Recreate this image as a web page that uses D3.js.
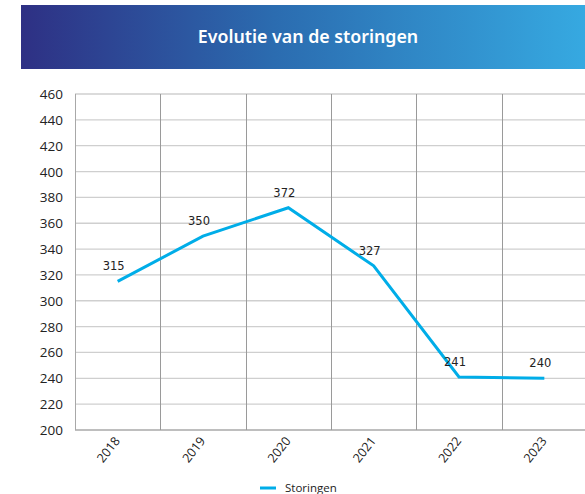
<!DOCTYPE html>
<html>
<head>
<meta charset="utf-8">
<script src="https://cdn.jsdelivr.net/npm/d3@7"></script>
<style>
  body { margin: 0; background: #fff; }
  svg { display: block; }
</style>
</head>
<body>
<div id="chart"></div>
<script>
// data
const years = ['2018', '2019', '2020', '2021', '2022', '2023'];
const storingen = [315, 350, 372, 327, 241, 240];
const yTicks = [200, 220, 240, 260, 280, 300, 320, 340, 360, 380, 400, 420, 440, 460];
const title = 'Evolutie van de storingen';
const seriesName = 'Storingen';

const width = 585, height = 494;
const margin = { top: 94, right: -2, bottom: 64, left: 75 };

const svg = d3.select('#chart').append('svg')
    .attr('width', width)
    .attr('height', height);

// header bar with gradient
const grad = svg.append('defs').append('linearGradient')
    .attr('id', 'hdr').attr('x1', '0%').attr('x2', '100%');
grad.append('stop').attr('offset', '0%').attr('stop-color', '#2e3084');
grad.append('stop').attr('offset', '45%').attr('stop-color', '#2b6cb0');
grad.append('stop').attr('offset', '100%').attr('stop-color', '#36a9e1');

svg.append('rect')
    .attr('x', 21).attr('y', 5)
    .attr('width', width - 21).attr('height', 64)
    .attr('fill', 'url(#hdr)');

svg.append('text')
    .attr('x', 308).attr('y', 43)
    .attr('text-anchor', 'middle')
    .attr('fill', '#fff')
    .attr('font-family', 'Noto Sans, Open Sans, sans-serif')
    .attr('font-weight', 600)
    .attr('font-size', 17.8)
    .text(title);

const x = d3.scaleBand()
    .domain(years)
    .range([margin.left, width - margin.right]);

const y = d3.scaleLinear()
    .domain([200, 460])
    .range([height - margin.bottom, margin.top]);

// horizontal grid
svg.append('g')
    .selectAll('line')
    .data(yTicks)
    .join('line')
    .attr('x1', margin.left).attr('x2', width)
    .attr('y1', d => y(d)).attr('y2', d => y(d))
    .attr('stroke', d => d === 200 ? '#a8a8a8' : '#cfcfcf')
    .attr('stroke-width', 1.3);

// vertical grid at band edges
const edges = years.map(d => x(d)).concat([x(years[years.length - 1]) + x.bandwidth()]);
svg.append('g')
    .selectAll('line')
    .data(edges)
    .join('line')
    .attr('x1', d => Math.round(d) + 0.5).attr('x2', d => Math.round(d) + 0.5)
    .attr('y1', y(460)).attr('y2', y(200))
    .attr('stroke', (d, i) => i === 0 ? '#a8a8a8' : '#9a9a9a')
    .attr('stroke-width', 1);

// y axis labels
svg.append('g')
    .selectAll('text')
    .data(yTicks)
    .join('text')
    .attr('x', 63)
    .attr('y', d => y(d) + 5)
    .attr('text-anchor', 'end')
    .attr('fill', '#222')
    .attr('font-family', 'Open Sans, sans-serif')
    .attr('font-size', 13.5)
    .text(d => d);

// x axis labels
svg.append('g')
    .selectAll('text')
    .data(years)
    .join('text')
    .attr('transform', d => `translate(${x(d) + x.bandwidth() / 2 + 3},${y(200) + 11}) rotate(-52)`)
    .attr('text-anchor', 'end')
    .attr('fill', '#222')
    .attr('font-family', 'Open Sans, sans-serif')
    .attr('font-size', 12.5)
    .text(d => d);

// line
const pts = years.map((d, i) => ({ year: d, value: storingen[i] }));
const line = d3.line()
    .x(d => x(d.year) + x.bandwidth() / 2)
    .y(d => y(d.value));

svg.append('path')
    .datum(pts)
    .attr('fill', 'none')
    .attr('stroke', '#00ade8')
    .attr('stroke-width', 3)
    .attr('d', line);

// value labels
svg.append('g')
    .selectAll('text')
    .data(pts)
    .join('text')
    .attr('x', d => x(d.year) + x.bandwidth() / 2 - 4)
    .attr('y', d => y(d.value) - 11)
    .attr('text-anchor', 'middle')
    .attr('fill', '#222')
    .attr('font-family', 'DejaVu Sans, Verdana, sans-serif')
    .attr('font-size', 11.5)
    .text(d => d.value);

// legend
svg.append('line')
    .attr('x1', 260).attr('x2', 276)
    .attr('y1', 488).attr('y2', 488)
    .attr('stroke', '#00ade8')
    .attr('stroke-width', 3);
svg.append('text')
    .attr('x', 285).attr('y', 492)
    .attr('fill', '#222')
    .attr('font-family', 'Open Sans, sans-serif')
    .attr('font-size', 11.5)
    .text(seriesName);
</script>
</body>
</html>
